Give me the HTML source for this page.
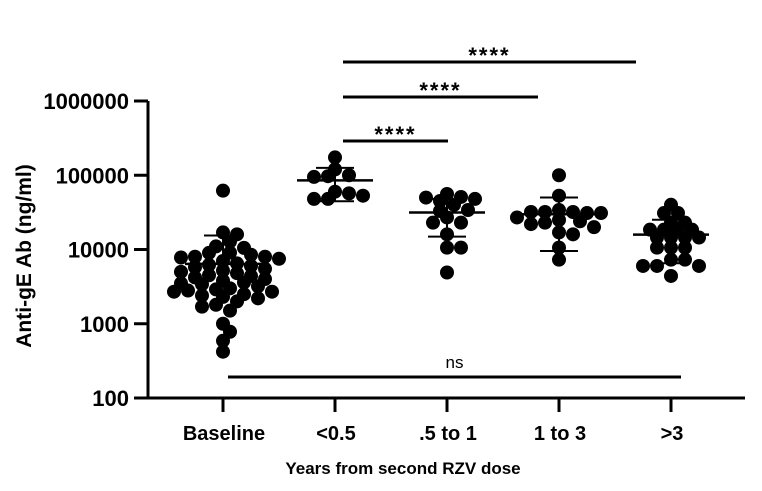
<!DOCTYPE html>
<html><head><meta charset="utf-8"><style>
body{margin:0;background:#fff}
svg text{font-family:"Liberation Sans",Arial,sans-serif;font-weight:bold;fill:#000}
</style></head><body>
<svg id="chart" width="762" height="486" viewBox="0 0 762 486"></svg>
<script>
const categories = ["Baseline", "<0.5", ".5 to 1", "1 to 3", ">3"];
const baselineValues = [62000,17000,16000,12800,11000,10500,9100,9000,8500,8000,8000,7800,7500,7000,6500,6200,6000,5800,5500,5200,5000,4800,4500,4400,4200,4000,3800,3600,3500,3400,3200,3000,2900,2800,2700,2700,2500,2400,2300,2200,2000,1800,1700,1500,1000,780,590,420];
const lt05Values = [174000,120000,100000,97000,95000,60000,57000,48000,48000,53000];
const half1Values = [56000,51000,45000,50000,48000,40000,33000,34000,27000,23000,23000,16000,10600,10600,4900];
const one3Values = [100000,53000,34000,32000,32000,31000,32000,31000,25000,24000,23000,27000,22000,17000,20000,16000,10600,7300];
const gt3Values = [40000,31000,31000,23000,23000,18500,18500,18500,18500,14500,14500,14500,14500,10600,10600,10600,7300,7300,6000,6000,6000,4400];
const seriesValues = [baselineValues, lt05Values, half1Values, one3Values, gt3Values];
const yTicks = [100, 1000, 10000, 100000, 1000000];
const yTickLabels = ["100", "1000", "10000", "100000", "1000000"];
const sigFrom = [1, 1, 1, 0];
const sigTo = [2, 3, 4, 4];
const sigLabels = ["****", "****", "****", "ns"];

const svg = document.getElementById('chart');
const NS = 'http://www.w3.org/2000/svg';
const X0 = 148, X1 = 745, Y0 = 398;
const SIG_END_ADJ = [1, -21, -35, 10];
function xScale(i){ return 223 + i * 112; }
function yScale(v){ return Y0 - (Math.log10(v) - 2) * 74.25; }
function mk(tag, attrs, parent){
  const e = document.createElementNS(NS, tag);
  for (const k in attrs) e.setAttribute(k, attrs[k]);
  (parent || svg).appendChild(e);
  return e;
}

let el = mk('line', {x1:X0, y1:yScale(1000000), x2:X0, y2:Y0+1.5, stroke:'#000','stroke-width':3});


el = mk('line', {x1:X0-1.5, y1:Y0, x2:X1, y2:Y0, stroke:'#000','stroke-width':3});


yTicks.forEach((t, i) => {
  const y = yScale(t);
  const tk = mk('line', {x1:X0-14, y1:y, x2:X0, y2:y, stroke:'#000','stroke-width':3});
  
  
  const tx = mk('text', {x:X0-19, y:y+8, 'text-anchor':'end','font-size':22});
  tx.textContent = yTickLabels[i];
  
  
});
categories.forEach((c, i) => {
  const x = xScale(i);
  const tk = mk('line', {x1:x, y1:Y0, x2:x, y2:Y0+14, stroke:'#000','stroke-width':3});
  
  
  const tx = mk('text', {x:x+1, y:440, 'text-anchor':'middle','font-size':20});
  tx.textContent = c;
  
  
});
el = mk('text', {x:403, y:474, 'text-anchor':'middle','font-size':17});
el.textContent = 'Years from second RZV dose';


el = mk('text', {x:0, y:0, 'text-anchor':'middle','font-size':21, transform:'translate(31,256) rotate(-90)'});
el.textContent = 'Anti-gE Ab (ng/ml)';



const R = 7;
seriesValues.forEach((vals, i) => {
  const cx = xScale(i);
  const placed = [];
  const g = mk('g', {});
  
  
  vals.forEach(v => {
    const y = yScale(v);
    let x = cx;
    for (let k = 0; k < 40; k++) {
      const off = (k % 2 ? 1 : -1) * Math.ceil(k / 2) * R * 1.0;
      const tx = cx + off;
      if (placed.every(p => (p[0]-tx)**2 + (p[1]-y)**2 >= (2*R*0.68)**2)) { x = tx; break; }
    }
    placed.push([x, y]);
    const c = mk('circle', {cx:x, cy:y, r:R, fill:'#000'}, g);
    
    
  });
  const n = vals.length;
  const mean = vals.reduce((a,b)=>a+b,0)/n;
  const sd = Math.sqrt(vals.reduce((a,b)=>a+(b-mean)**2,0)/(n-1));
  const ym = yScale(mean), yt = yScale(mean+sd);
  const yb = mean - sd > 100 ? yScale(mean - sd) : ym;
  let l = mk('line', {x1:cx-38, y1:ym, x2:cx+38, y2:ym, stroke:'#000','stroke-width':2.5});
  
  
  l = mk('line', {x1:cx, y1:yt, x2:cx, y2:yb, stroke:'#000','stroke-width':2});
  
  
  l = mk('line', {x1:cx-19, y1:yt, x2:cx+19, y2:yt, stroke:'#000','stroke-width':2});
  
  
  if (yb !== ym) {
    l = mk('line', {x1:cx-19, y1:yb, x2:cx+19, y2:yb, stroke:'#000','stroke-width':2});
    
    
  }
});

const sigY = [141, 97, 62, 377];
sigLabels.forEach((s, k) => {
  const isNs = s === 'ns';
  const xa = xScale(sigFrom[k]) + (isNs ? 5 : 8);
  const xb = xScale(sigTo[k]) + SIG_END_ADJ[k];
  const l = mk('line', {x1:xa, y1:sigY[k], x2:xb, y2:sigY[k], stroke:'#000','stroke-width':3});
  
  
  const t = mk('text', {x:(xa+xb)/2, y:isNs ? sigY[k]-9 : sigY[k]+1, 'text-anchor':'middle','font-size':isNs?17:22});
  t.style.fontWeight = isNs ? 'normal' : 'bold';
  t.setAttribute('letter-spacing', isNs ? '0' : '2');
  t.textContent = s;
  
  
});
</script>
</body></html>
